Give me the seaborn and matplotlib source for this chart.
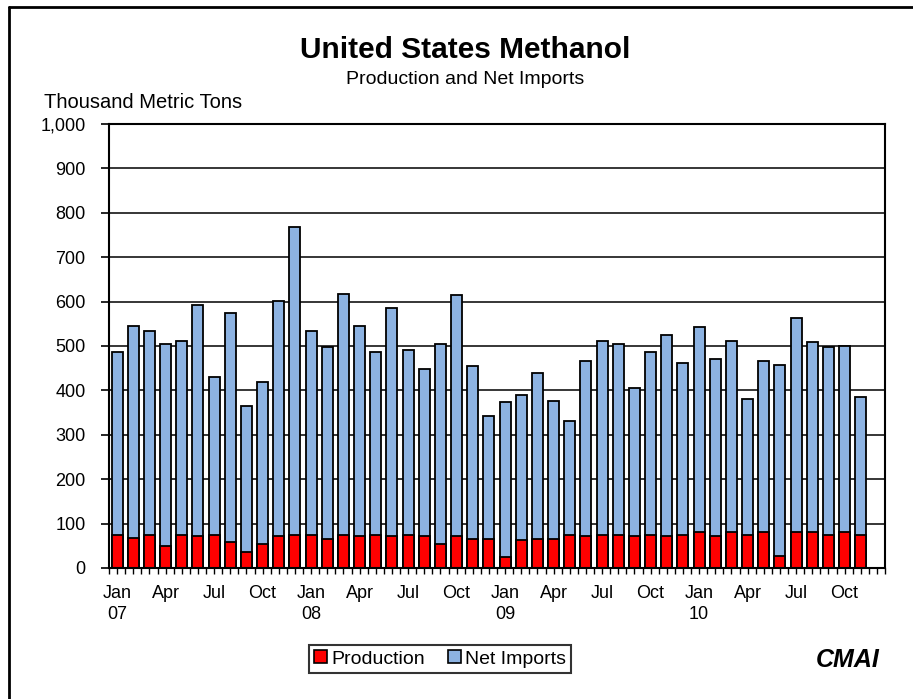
import numpy as np
import pandas as pd
import matplotlib
matplotlib.use('Agg')
import matplotlib.pyplot as plt
from matplotlib.lines import Line2D
from matplotlib.patches import Patch
from matplotlib.ticker import FuncFormatter
import seaborn as sns

# Monthly data, Jan 2007 - Nov 2010 (thousand metric tons)
months = pd.period_range('2007-01', '2010-12', freq='M').strftime('%Y-%m').tolist()

production = [75, 67, 75, 50, 75, 71, 75, 58, 37, 55, 71, 75,
              75, 66, 75, 71, 75, 71, 75, 71, 54, 71, 66, 66,
              25, 64, 66, 66, 75, 71, 75, 75, 71, 75, 71, 75,
              80, 71, 80, 75, 80, 28, 80, 80, 75, 80, 75]

net_imports = [411, 479, 458, 454, 437, 521, 356, 517, 327, 364, 530, 692,
               458, 431, 543, 475, 412, 514, 416, 377, 450, 543, 388, 277,
               348, 325, 374, 310, 256, 395, 437, 429, 335, 412, 454, 386,
               462, 399, 432, 306, 386, 429, 484, 428, 422, 420, 310]

month_names = ['Jan', 'Apr', 'Jul', 'Oct']
years = ['07', '08', '09', '10']

df = pd.DataFrame({
    'month': months[:len(production)],
    'Production': production,
    'Net Imports': net_imports,
})
df['total'] = df['Production'] + df['Net Imports']

sns.set_style('white')
plt.rcParams['font.family'] = ['Liberation Sans', 'DejaVu Sans']
plt.rcParams['text.color'] = 'black'
plt.rcParams['xtick.color'] = 'black'
plt.rcParams['ytick.color'] = 'black'
plt.rcParams['xtick.labelcolor'] = 'black'
plt.rcParams['ytick.labelcolor'] = 'black'

red = '#FF0000'
blue = '#8DB3E2'

fig = plt.figure(figsize=(9.13, 6.99), dpi=100)
ax = fig.add_axes([109 / 913, 1 - 568 / 699, (885 - 109) / 913, (568 - 124) / 699])

# grid behind bars
for v in range(100, 1000, 100):
    ax.axhline(v, color='black', lw=1.1, zorder=0)

# stacked bars: total in blue, production in red on top
sns.barplot(data=df, x='month', y='total', order=months, color=blue,
            width=0.68, edgecolor='black', linewidth=1.3, saturation=1,
            ax=ax, zorder=2)
sns.barplot(data=df, x='month', y='Production', order=months, color=red,
            width=0.68, edgecolor='black', linewidth=1.3, saturation=1,
            ax=ax, zorder=3)

ax.set_xlim(-0.5, len(months) - 0.5)
ax.set_ylim(0, 1000)
ax.set_xlabel('')
ax.set_ylabel('')

# x ticks
tick_pos = list(range(0, len(months), 3))
tick_lab = []
for i in tick_pos:
    name = month_names[(i % 12) // 3]
    if i % 12 == 0:
        tick_lab.append(f'{name}\n{years[i // 12]}')
    else:
        tick_lab.append(name)
ax.set_xticks(tick_pos)
ax.set_xticklabels(tick_lab, fontsize=13, linespacing=1.35, va='top')
ax.set_xticks(np.arange(-0.5, len(months), 0.5), minor=True)
ax.tick_params(axis='x', which='both', direction='out', length=4, width=1,
               color='black', bottom=True, pad=8)

ax.set_yticks(range(0, 1001, 100))
ax.yaxis.set_major_formatter(FuncFormatter(lambda v, p: f'{int(v):,}'))
ax.tick_params(axis='y', direction='out', length=6, width=1.2, color='black',
               left=True, labelsize=13, pad=11)

for s in ax.spines.values():
    s.set_color('black')
    s.set_linewidth(1.5)
    s.set_zorder(5)

# titles
fig.text(465 / 913, 1 - 50 / 699, 'United States Methanol', ha='center', va='center',
         fontsize=21.5, fontweight='bold')
fig.text(465 / 913, 1 - 80 / 699, 'Production and Net Imports', ha='center', va='center',
         fontsize=14)
fig.text(44 / 913, 1 - 102 / 699, 'Thousand Metric Tons', ha='left', va='center',
         fontsize=14.5)

# legend
handles = [Patch(facecolor=red, edgecolor='black', lw=1.2, label='Production'),
           Patch(facecolor=blue, edgecolor='black', lw=1.2, label='Net Imports')]
leg = fig.legend(handles=handles, loc='center', bbox_to_anchor=(440 / 913, 1 - 659 / 699),
                 ncol=2, fontsize=14, frameon=True, fancybox=False,
                 handlelength=0.65, handleheight=0.65, handletextpad=0.2,
                 columnspacing=1.2, borderpad=0.3, borderaxespad=0)
leg.get_frame().set_edgecolor('black')
leg.get_frame().set_linewidth(1.5)

# logo text
fig.text(848 / 913, 1 - 660 / 699, 'CMAI', ha='center', va='center',
         fontsize=18, fontweight='bold', style='italic')

# outer frame (left and top edges)
fig.add_artist(Line2D([9 / 913, 9 / 913], [0, 1 - 7 / 699], color='black', lw=2,
                      transform=fig.transFigure))
fig.add_artist(Line2D([9 / 913, 1], [1 - 7 / 699, 1 - 7 / 699], color='black', lw=2,
                      transform=fig.transFigure))

fig.savefig('out.png', dpi=100)
plt.close(fig)
